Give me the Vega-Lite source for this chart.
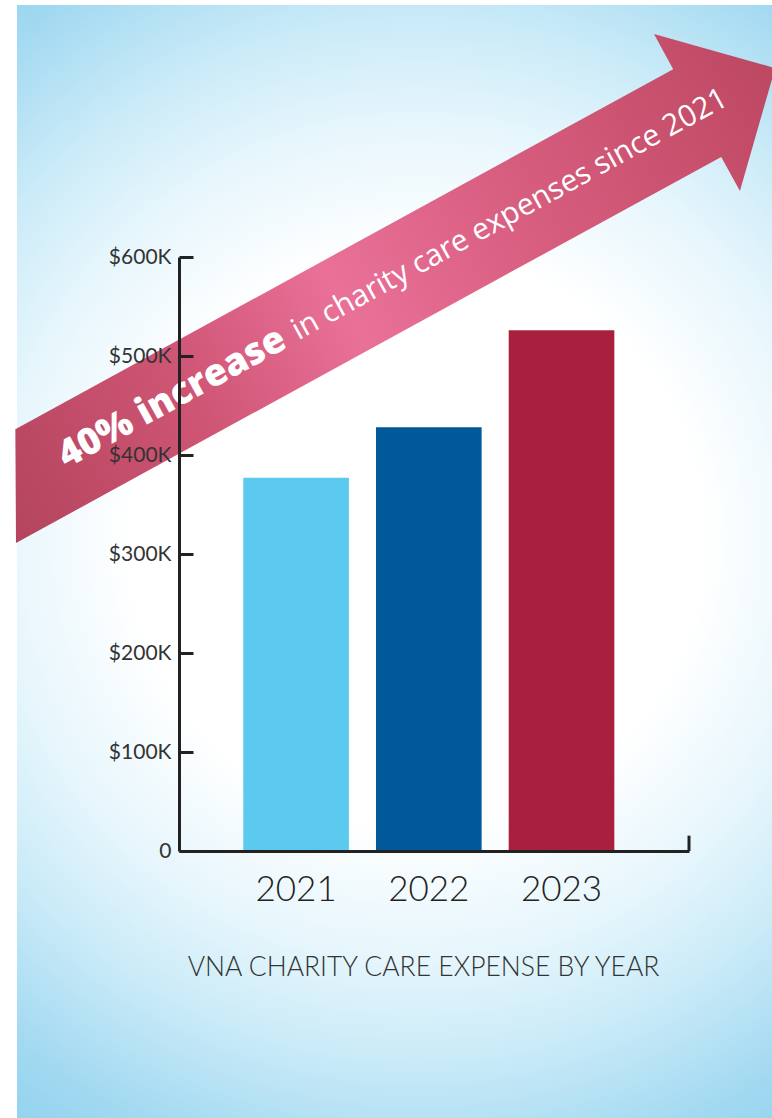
{
  "$schema": "https://vega.github.io/schema/vega-lite/v6.json",
  "width": 510,
  "height": 594,
  "autosize": {"type": "none"},
  "padding": {"left": 179, "top": 257, "right": 83, "bottom": 267},
  "background": "#ffffff",
  "config": {"view": {"stroke": null}},
  "data": {"values": [
    {"year": "2021", "expense": 377000},
    {"year": "2022", "expense": 428000},
    {"year": "2023", "expense": 526000}
  ]},
  "layer": [
    {
      "data": {"values": [{}]},
      "mark": {
        "type": "rect",
        "fill": {
          "gradient": "radial",
          "x1": 0.52, "y1": 0.48, "r1": 0,
          "x2": 0.52, "y2": 0.48, "r2": 0.8,
          "stops": [
            {"offset": 0, "color": "#ffffff"},
            {"offset": 0.32, "color": "#ffffff"},
            {"offset": 0.47, "color": "#e6f6fc"},
            {"offset": 0.58, "color": "#cbebf8"},
            {"offset": 0.72, "color": "#a2d9f1"},
            {"offset": 0.86, "color": "#86cdec"},
            {"offset": 1, "color": "#7ec9ea"}
          ]
        }
      },
      "encoding": {
        "x": {"value": -162},
        "x2": {"value": 593},
        "y": {"value": -252},
        "y2": {"value": 861}
      }
    },
    {
      "mark": {"type": "bar"},
      "encoding": {
        "x": {
          "field": "year",
          "type": "nominal",
          "scale": {"paddingInner": 0.204, "paddingOuter": 0.5235, "align": 0.4626},
          "axis": {
            "title": "VNA CHARITY CARE EXPENSE BY YEAR",
            "titleFont": "Lato",
            "titleFontWeight": 300,
            "titleFontSize": 26.5,
            "titleColor": "#333333",
            "titleX": 244,
            "titleY": 124,
            "titleAlign": "center",
            "titleBaseline": "alphabetic",
            "labelAngle": 0,
            "labelFont": "Lato",
            "labelFontWeight": 300,
            "labelFontSize": 35,
            "labelColor": "#222222",
            "labelPadding": 21,
            "ticks": false,
            "domainColor": "#222222",
            "domainWidth": 3,
            "zindex": 1
          }
        },
        "y": {
          "field": "expense",
          "type": "quantitative",
          "scale": {"domain": [0, 600000], "nice": false},
          "axis": {
            "title": null,
            "grid": false,
            "values": [0, 100000, 200000, 300000, 400000, 500000, 600000],
            "labelExpr": "datum.value == 0 ? '0' : '$' + (datum.value / 1000) + 'K'",
            "labelFont": "Lato",
            "labelFontWeight": 400,
            "labelFontSize": 21,
            "labelColor": "#333333",
            "labelPadding": 22,
            "domainColor": "#222222",
            "domainWidth": 3,
            "tickColor": "#222222",
            "tickWidth": 3,
            "tickSize": -14,
            "zindex": 1
          }
        },
        "color": {
          "field": "year",
          "type": "nominal",
          "scale": {"domain": ["2021", "2022", "2023"], "range": ["#5ccaee", "#02599a", "#a9203e"]},
          "legend": null
        }
      }
    },
    {
      "data": {"values": [{}]},
      "mark": {
        "type": "point",
        "shape": "M -444 -50 L 306 -50 L 306 -90 L 396 -2 L 306 89 L 306 50 L -498 50 Z",
        "size": 4,
        "angle": 331.3,
        "filled": true,
        "opacity": 1,
        "strokeWidth": 0,
        "fill": {
          "gradient": "linear",
          "x1": 0, "y1": 0, "x2": 1, "y2": 0,
          "stops": [
            {"offset": 0, "color": "#b4445d"},
            {"offset": 0.25, "color": "#cf5575"},
            {"offset": 0.45, "color": "#e97198"},
            {"offset": 0.7, "color": "#d65c7d"},
            {"offset": 1, "color": "#bd4862"}
          ]
        }
      },
      "encoding": {
        "x": {"datum": "2022"},
        "y": {"datum": 597000}
      }
    },
    {
      "data": {"values": [{}]},
      "mark": {
        "type": "text",
        "text": "40% increase",
        "font": "Open Sans",
        "fontWeight": 800,
        "fontSize": 37.5,
        "color": "#ffffff",
        "angle": 331.3,
        "align": "left",
        "baseline": "alphabetic",
        "dx": -418,
        "dy": 9
      },
      "encoding": {
        "x": {"datum": "2022"},
        "y": {"datum": 597000}
      }
    },
    {
      "data": {"values": [{}]},
      "mark": {
        "type": "text",
        "text": "in charity care expenses since 2021",
        "font": "Open Sans",
        "fontWeight": 400,
        "fontSize": 30,
        "color": "#ffffff",
        "angle": 331.3,
        "align": "left",
        "baseline": "alphabetic",
        "dx": -153,
        "dy": 8
      },
      "encoding": {
        "x": {"datum": "2022"},
        "y": {"datum": 597000}
      }
    },
    {
      "data": {"values": [{}]},
      "mark": {"type": "rule", "color": "#222222", "strokeWidth": 3},
      "encoding": {
        "x": {"value": 510},
        "y": {"datum": 0},
        "y2": {"datum": 15500}
      }
    }
  ]
}
